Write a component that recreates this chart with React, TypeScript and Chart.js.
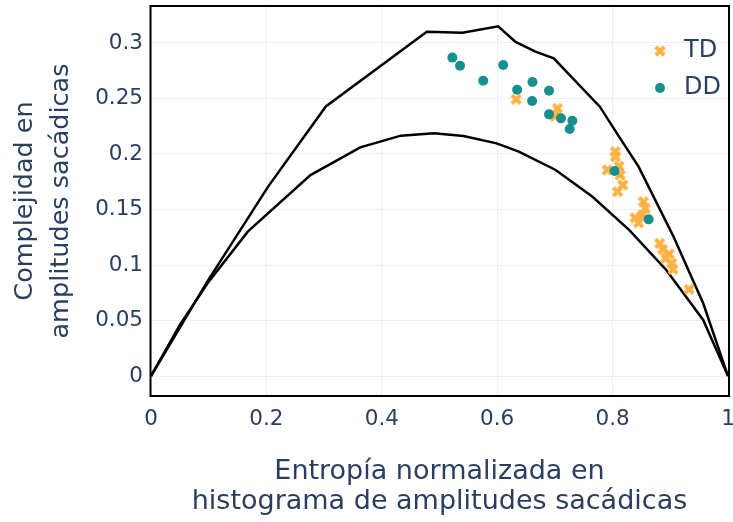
import React, { useEffect, useRef } from "react";
import { Chart, registerables } from "chart.js";

Chart.register(...registerables);

// ---- data ----
const upperX = [0, 0.0975, 0.203, 0.303, 0.478, 0.54, 0.6017, 0.6318, 0.6663, 0.698, 0.7779, 0.81, 0.845, 0.9057, 0.9313, 0.957, 1];
const upperY = [0, 0.085, 0.1706, 0.2428, 0.3102, 0.3093, 0.315, 0.301, 0.2922, 0.2862, 0.2426, 0.2165, 0.1886, 0.1255, 0.0955, 0.0655, 0];

const lowerX = [0, 0.05, 0.1, 0.1677, 0.2764, 0.3627, 0.433, 0.4905, 0.5416, 0.599, 0.6375, 0.7013, 0.7652, 0.829, 0.893, 0.957, 1];
const lowerY = [0, 0.046, 0.085, 0.13, 0.181, 0.206, 0.2165, 0.2186, 0.2162, 0.2096, 0.2021, 0.1856, 0.1615, 0.1315, 0.0955, 0.0505, 0];

const tdX = [0.6328, 0.7045, 0.7, 0.8048, 0.805, 0.7908, 0.8131, 0.8176, 0.8086, 0.811, 0.8534, 0.8566, 0.8387, 0.8451, 0.8515, 0.8815, 0.8866, 0.898, 0.8918, 0.9026, 0.9045, 0.9326];
const tdY = [0.2492, 0.2411, 0.234, 0.2021, 0.1976, 0.1856, 0.1811, 0.1721, 0.166, 0.189, 0.157, 0.151, 0.1426, 0.1381, 0.145, 0.1195, 0.1141, 0.1099, 0.106, 0.1015, 0.0961, 0.0781];

const ddX = [0.5223, 0.5356, 0.5758, 0.6104, 0.6346, 0.6611, 0.6605, 0.6898, 0.6898, 0.7106, 0.7302, 0.7256, 0.8035, 0.8624];
const ddY = [0.2868, 0.2795, 0.266, 0.2801, 0.2579, 0.2649, 0.2477, 0.257, 0.2357, 0.2321, 0.23, 0.2225, 0.1847, 0.1411];

const seriesNames = ["TD", "DD"];
const xTicks = [0, 0.2, 0.4, 0.6, 0.8, 1];
const xTickLabels = ["0", "0.2", "0.4", "0.6", "0.8", "1"];
const yTicks = [0, 0.05, 0.1, 0.15, 0.2, 0.25, 0.3];
const yTickLabels = ["0", "0.05", "0.1", "0.15", "0.2", "0.25", "0.3"];
const xTitle = ["Entropía normalizada en", "histograma de amplitudes sacádicas"];
const yTitle = ["Complejidad en", "amplitudes sacádicas"];

// ---- styles ----
const FONT = "'DejaVu Sans', Verdana, sans-serif";
const TEXT = "#2a3f5f";
const GRID = "#EBF0F8";
const TD_COLOR = "#FFB244";
const DD_COLOR = "rgb(23,143,143)";

function makeX(size: number, color: string): HTMLCanvasElement {
  const r = size / 2;
  const rx = (r * 0.8) / Math.SQRT2;
  const d = Math.ceil(4 * rx) + 2;
  const c = document.createElement("canvas");
  c.width = d;
  c.height = d;
  const g = c.getContext("2d")!;
  g.translate(d / 2, d / 2);
  const pts = [
    [0, rx], [rx, 2 * rx], [2 * rx, rx], [rx, 0], [2 * rx, -rx], [rx, -2 * rx],
    [0, -rx], [-rx, -2 * rx], [-2 * rx, -rx], [-rx, 0], [-2 * rx, rx], [-rx, 2 * rx],
  ];
  g.beginPath();
  pts.forEach(([x, y], i) => (i === 0 ? g.moveTo(x, y) : g.lineTo(x, y)));
  g.closePath();
  g.fillStyle = color;
  g.fill();
  return c;
}

const framePlugin = {
  id: "frame",
  afterDraw(chart: any) {
    const { ctx, chartArea: a } = chart;
    ctx.save();
    ctx.strokeStyle = "#000";
    ctx.lineWidth = 2;
    ctx.strokeRect(a.left - 0.5, a.top, a.right - a.left + 1.5, a.bottom - a.top);
    ctx.restore();
  },
};

const legendPlugin = {
  id: "insideLegend",
  afterDraw(chart: any) {
    const { ctx } = chart;
    ctx.save();
    [0, 1].forEach((di, row) => {
      const ds = chart.data.datasets[di];
      const y = 51 + row * 37;
      const mx = 660;
      if (ds.pointStyle instanceof HTMLCanvasElement) {
        const im = ds.pointStyle as HTMLCanvasElement;
        ctx.drawImage(im, mx - im.width / 2, y - im.height / 2);
      } else {
        ctx.beginPath();
        ctx.fillStyle = ds.backgroundColor;
        ctx.arc(mx, y, 5, 0, Math.PI * 2);
        ctx.fill();
      }
      ctx.fillStyle = TEXT;
      ctx.font = `24px ${FONT}`;
      ctx.textBaseline = "middle";
      ctx.textAlign = "left";
      ctx.fillText(ds.label, 684, y);
    });
    ctx.restore();
  },
};

export default function App() {
  const ref = useRef<HTMLCanvasElement>(null);

  useEffect(() => {
    const xImg = makeX(10, TD_COLOR);
    const lineStyle = {
      type: "line",
      borderColor: "#000",
      borderWidth: 2.5,
      pointRadius: 0,
      showLine: true,
      fill: false,
      tension: 0,
      order: 2,
    };
    const chart = new Chart(ref.current!, {
      type: "scatter",
      data: {
        datasets: [
          {
            label: seriesNames[0],
            data: tdX.map((x, i) => ({ x, y: tdY[i] })),
            pointStyle: xImg as any,
            backgroundColor: TD_COLOR,
            borderColor: TD_COLOR,
            order: 1,
          },
          {
            label: seriesNames[1],
            data: ddX.map((x, i) => ({ x, y: ddY[i] })),
            pointStyle: "circle",
            pointRadius: 5,
            borderWidth: 0,
            backgroundColor: DD_COLOR,
            borderColor: DD_COLOR,
            order: 0,
          },
          {
            ...lineStyle,
            label: "max",
            data: upperX.map((x, i) => ({ x, y: upperY[i] })),
          } as any,
          {
            ...lineStyle,
            label: "min",
            data: lowerX.map((x, i) => ({ x, y: lowerY[i] })),
          } as any,
        ],
      },
      options: {
        animation: false,
        responsive: false,
        layout: { padding: { top: 6, right: 3, bottom: 0, left: 0 } },
        plugins: {
          legend: { display: false },
          tooltip: { enabled: false },
        },
        scales: {
          x: {
            type: "linear",
            min: 0,
            max: 1,
            afterBuildTicks: (s: any) => {
              s.ticks = xTicks.map((v) => ({ value: v }));
            },
            afterFit: (s: any) => {
              s.height = 126;
              s.paddingLeft = 0;
              s.paddingRight = 0;
            },
            grid: { color: GRID, drawTicks: false },
            border: { display: false },
            ticks: {
              padding: 11,
              maxRotation: 0,
              autoSkip: false,
              color: TEXT,
              font: { family: FONT, size: 21.5 },
              callback: (_v: any, i: number) => xTickLabels[i],
            },
            title: {
              display: true,
              text: xTitle,
              color: TEXT,
              font: { family: FONT, size: 27, lineHeight: 1.11 },
              padding: { top: 0, bottom: 5 },
            },
          },
          y: {
            type: "linear",
            min: -0.018,
            max: 0.3333,
            afterBuildTicks: (s: any) => {
              s.ticks = yTicks.map((v) => ({ value: v }));
            },
            afterFit: (s: any) => {
              s.width = 151;
              s.paddingTop = 0;
              s.paddingBottom = 0;
            },
            grid: { color: GRID, drawTicks: false },
            border: { display: false },
            ticks: {
              padding: 8,
              autoSkip: false,
              color: TEXT,
              font: { family: FONT, size: 21.5 },
              callback: (_v: any, i: number) => yTickLabels[i],
            },
            title: {
              display: true,
              text: yTitle,
              color: TEXT,
              font: { family: FONT, size: 25.5, lineHeight: 1.41 },
              padding: { top: 7, bottom: 0 },
            },
          },
        },
      },
      plugins: [framePlugin, legendPlugin],
    });
    return () => chart.destroy();
  }, []);

  return (
    <div style={{ position: "fixed", left: 0, top: 0, width: 733, height: 522, background: "#fff" }}>
      <canvas ref={ref} width={733} height={522} style={{ width: 733, height: 522, display: "block" }} />
    </div>
  );
}
